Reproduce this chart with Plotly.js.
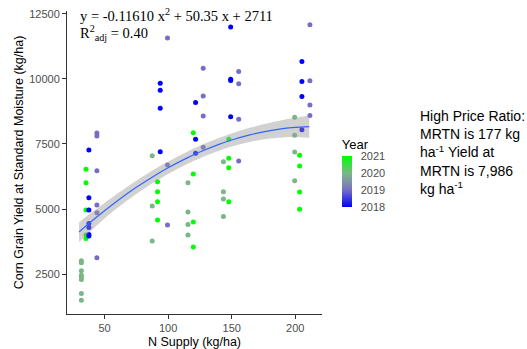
<!DOCTYPE html>
<html>
<head>
<meta charset="utf-8">
<script src="https://cdn.plot.ly/plotly-3.0.1.min.js"></script>
<style>html,body{margin:0;padding:0;background:#fff;}#chart{width:527px;height:349px;}</style>
</head>
<body>
<div id="chart"></div>
<script>
// ---- data ----
const nSupply = [
  31.8,31.8,31.8,31.8,31.8,31.8,31.8,31.8,
  35.4,35.4,35.4,35.4,35.4,
  37.7,37.7,37.7,37.7,37.7,37.7,37.7,
  44,44,44,44,44,44,
  87.5,87.5,87.5,
  91.7,91.7,91.7,91.7,
  93.8,93.8,93.8,93.8,
  99.5,99.5,99.5,
  115.6,115.6,115.6,115.6,
  119.8,119.8,119.8,119.8,
  121.6,121.6,121.6,
  127.6,127.6,127.6,127.6,
  143.5,143.5,143.5,143.5,
  147.7,147.7,147.7,147.7,
  149.2,149.2,149.2,149.2,
  155.5,155.5,155.5,155.5,
  199.5,199.5,199.5,199.5,
  203.4,203.4,203.4,203.4,
  205.2,205.2,205.2,205.2,
  211.5,211.5,211.5,211.5
];
const yieldKg = [
  3012,2935,2627,2462,2396,2296,1758,1500,
  6527,6012,4962,4000,3873,
  7269,5435,4962,4450,4296,4027,3962,
  7923,7808,6473,5154,4858,3127,
  7050,5116,3770,
  6050,5666,5281,4577,
  9835,9565,8873,7204,
  11565,6693,4385,
  6012,4885,4411,4000,
  7935,6346,4500,3539,
  9089,7681,7142,
  10412,9346,8577,7373,
  6820,5666,5385,4719,
  7681,6950,6589,5281,
  11988,9989,9935,8550,
  10281,9808,8450,6846,
  8527,7835,7193,6089,
  7066,6654,5654,4989,
  10666,9896,9320,8050,
  12077,9923,9000,8589
];
const year = [
  2020,2020,2020,2020,2020,2020,2020,2020,
  2021,2021,2021,2021,2021,
  2018,2018,2018,2018,2018,2018,2018,
  2019,2019,2019,2019,2019,2019,
  2020,2020,2020,
  2021,2021,2021,2021,
  2018,2018,2018,2018,
  2019,2019,2019,
  2020,2020,2020,2020,
  2021,2021,2021,2021,
  2018,2018,2018,
  2019,2019,2019,2019,
  2020,2020,2020,2020,
  2021,2021,2021,2021,
  2018,2018,2018,2018,
  2019,2019,2019,2019,
  2020,2020,2020,2020,
  2021,2021,2021,2021,
  2018,2018,2018,2018,
  2019,2019,2019,2019
];
// fitted quadratic curve (values as drawn) and its confidence half-width
const fitX = [30,40,50,60,75,90,100,115,125,140,150,165,175,190,200,211];
const fitY = [4117,4539,4938,5314,5834,6302,6585,6966,7191,7484,7651,7858,7966,8086,8137,8166];
const fitHalf = [380,340,300,275,255,245,240,238,240,245,252,270,290,335,370,430];
const yTicks = [2500,5000,7500,10000,12500];
const yTickLabels = ['2500','5000','7500','10000','12500'];
const xTicks = [50,100,150,200];
const yearTicks = [2018,2019,2020,2021];
const eqText = "y = -0.11610 x<sup>2</sup> + 50.35 x + 2711";
const r2Text = "R<sup>2</sup><sub>adj</sub> = 0.40";
const noteText = "High Price Ratio:<br>MRTN is 177 kg<br>ha<sup>-1</sup> Yield at<br>MRTN is 7,986<br>kg ha<sup>-1</sup>";

const upper = fitY.map((v,i)=>v+fitHalf[i]);
const lower = fitY.map((v,i)=>v-fitHalf[i]);

const colorscale = [
  [0,'#0000FF'],[1/3,'#766EC5'],[0.5,'#7E93A6'],[2/3,'#78B885'],[1,'#00FF00']
];

const traces = [
  {
    x: nSupply, y: yieldKg, mode:'markers', type:'scatter', hoverinfo:'skip',
    marker:{
      size:5, color: year, cmin:2018, cmax:2021, colorscale: colorscale,
      showscale:true,
      colorbar:{
        x:(341.7-67)/255, xanchor:'left', xref:'paper',
        y:(314-171.5)/303, yanchor:'middle',
        len:71, lenmode:'pixels', thickness:10, xpad:0, ypad:0,
        outlinewidth:0, tickvals: yearTicks, ticktext: yearTicks.map(String),
        ticks:'outside', ticklen:7, tickcolor:'#ffffff',
        tickfont:{family:'Liberation Sans, Arial, sans-serif', size:11, color:'#4d4d4d'},
        title:{text:'Year', side:'top', font:{family:'Liberation Sans, Arial, sans-serif', size:13, color:'#000'}}
      }
    }
  },
  {x: fitX, y: lower, mode:'lines', line:{width:0, shape:'spline'}, hoverinfo:'skip', showlegend:false},
  {x: fitX, y: upper, mode:'lines', line:{width:0, shape:'spline'}, fill:'tonexty', fillcolor:'rgba(153,153,153,0.45)', hoverinfo:'skip', showlegend:false},
  {x: fitX, y: fitY, mode:'lines', line:{width:1.2, color:'#3366FF', shape:'spline'}, hoverinfo:'skip', showlegend:false}
];

const tickFont = {family:'Liberation Sans, Arial, sans-serif', size:11, color:'#4d4d4d'};
const titleFont = {family:'Liberation Sans, Arial, sans-serif', size:12.5, color:'#000'};

const layout = {
  width:527, height:349,
  margin:{l:67, r:205, t:11, b:35, pad:0},
  paper_bgcolor:'#fff', plot_bgcolor:'#fff',
  showlegend:false,
  xaxis:{
    range:[20.5,221], tickvals:xTicks, ticktext:xTicks.map(String), ticks:'outside', ticklen:4, tickcolor:'#333',
    showline:true, linecolor:'#333', linewidth:1, showgrid:false, zeroline:false,
    tickfont: tickFont, title:{text:'N Supply (kg/ha)', font:titleFont, standoff:6}
  },
  yaxis:{
    range:[971,12606], tickvals:yTicks, ticktext:yTickLabels, ticks:'outside', ticklen:4, tickcolor:'#333',
    showline:true, linecolor:'#333', linewidth:1, showgrid:false, zeroline:false,
    tickfont: tickFont, title:{text:'Corn Grain Yield at Standard Moisture (kg/ha)', font:titleFont, standoff:2}
  },
  annotations:[
    {xref:'paper', yref:'paper', x:(78-67)/255, y:(314-15)/303, xanchor:'left', yanchor:'middle', showarrow:false,
     text:eqText, font:{family:'Liberation Serif, Times New Roman, serif', size:14.5, color:'#000'}},
    {xref:'paper', yref:'paper', x:(78-67)/255, y:(314-33)/303, xanchor:'left', yanchor:'middle', showarrow:false,
     text:r2Text, font:{family:'Liberation Serif, Times New Roman, serif', size:14.5, color:'#000'}},
    {xref:'paper', yref:'paper', x:(418-67)/255, y:(314-106)/303, xanchor:'left', yanchor:'top', showarrow:false, align:'left',
     text:noteText, font:{family:'Liberation Sans, Arial, sans-serif', size:14, color:'#000'}}
  ]
};

Plotly.newPlot('chart', traces, layout, {staticPlot:true, displayModeBar:false});
</script>
</body>
</html>
